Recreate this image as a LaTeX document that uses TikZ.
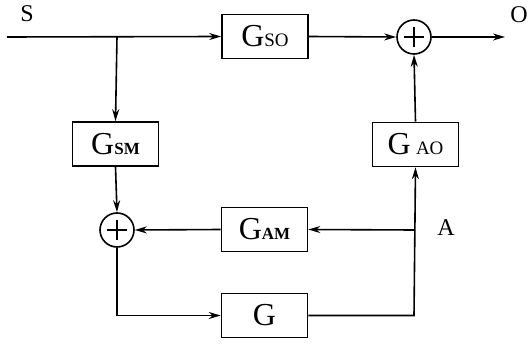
\documentclass[tikz,border=0pt]{standalone}
\usepackage{fontspec}
\setmainfont{Liberation Serif}
\usetikzlibrary{arrows.meta}
\newcommand\gsub[1]{{\fontsize{19}{19}\selectfont #1}}
\newcommand\gsubb[1]{{\fontsize{17}{17}\selectfont\bfseries #1}}
\begin{document}
\begin{tikzpicture}[x=1pt,y=-1pt,
  line width=1.6pt,
  blk/.style={draw,rectangle,minimum width=86pt,minimum height=44pt,inner sep=0pt,
    font=\fontsize{32}{32}\selectfont},
  sumnode/.style={draw,circle,minimum size=34pt,inner sep=0pt},
  lbl/.style={font=\fontsize{24}{24}\selectfont,inner sep=0pt},
  sig/.style={-{Stealth[length=12pt,width=7pt]}}]
\useasboundingbox (0,0) rectangle (529,344);
% blocks
\node[blk] (gso) at (265,36.5) {G\gsub{SO}};
\node[blk] (gsm) at (115.5,144) {G\gsubb{SM}};
\node[blk] (gao) at (415.5,144.5) {G\,\gsub{AO}};
\node[blk] (gam) at (264.5,229.5) {G\gsubb{AM}};
\node[blk] (g)   at (264.5,315.5) {G};
% summing junctions
\node[sumnode] (sumo) at (414,37) {};
\node[sumnode] (summ) at (117,230) {};
\foreach \s in {sumo,summ}{
  \draw[line width=1.3pt] ([xshift=-10pt]\s.center) -- ([xshift=10pt]\s.center);
  \draw[line width=1.3pt] ([yshift=-10pt]\s.center) -- ([yshift=10pt]\s.center);
}
% signal points
\coordinate (in) at (7,37);
\coordinate (br) at (117,37);
\coordinate (out) at (505,37);
\coordinate (a) at (414,230);
\coordinate (gr) at (414,315.5);
\coordinate (gl) at (117,315.5);
% labels
\node[lbl] (s) at (27,14) {S};
\node[lbl] (o) at (519,15) {O};
\node[lbl] (al) at (446,228) {A};
% connectors
\draw[sig] (in) -- (gso.west);
\draw[sig] (gso.east) -- (sumo.west);
\draw[sig] (sumo.east) -- (out);
\draw[sig] (br) -- (gsm.north);
\draw[sig] (gsm.south) -- (summ.north);
\draw[sig] (summ.south) -- (gl) -- (g.west);
\draw[sig] (g.east) -- (gr) -- (gao.south);
\draw[sig] (gao.north) -- (sumo.south);
\draw[sig] (a) -- (gam.east);
\draw[sig] (gam.west) -- (summ.east);
\end{tikzpicture}
\end{document}
